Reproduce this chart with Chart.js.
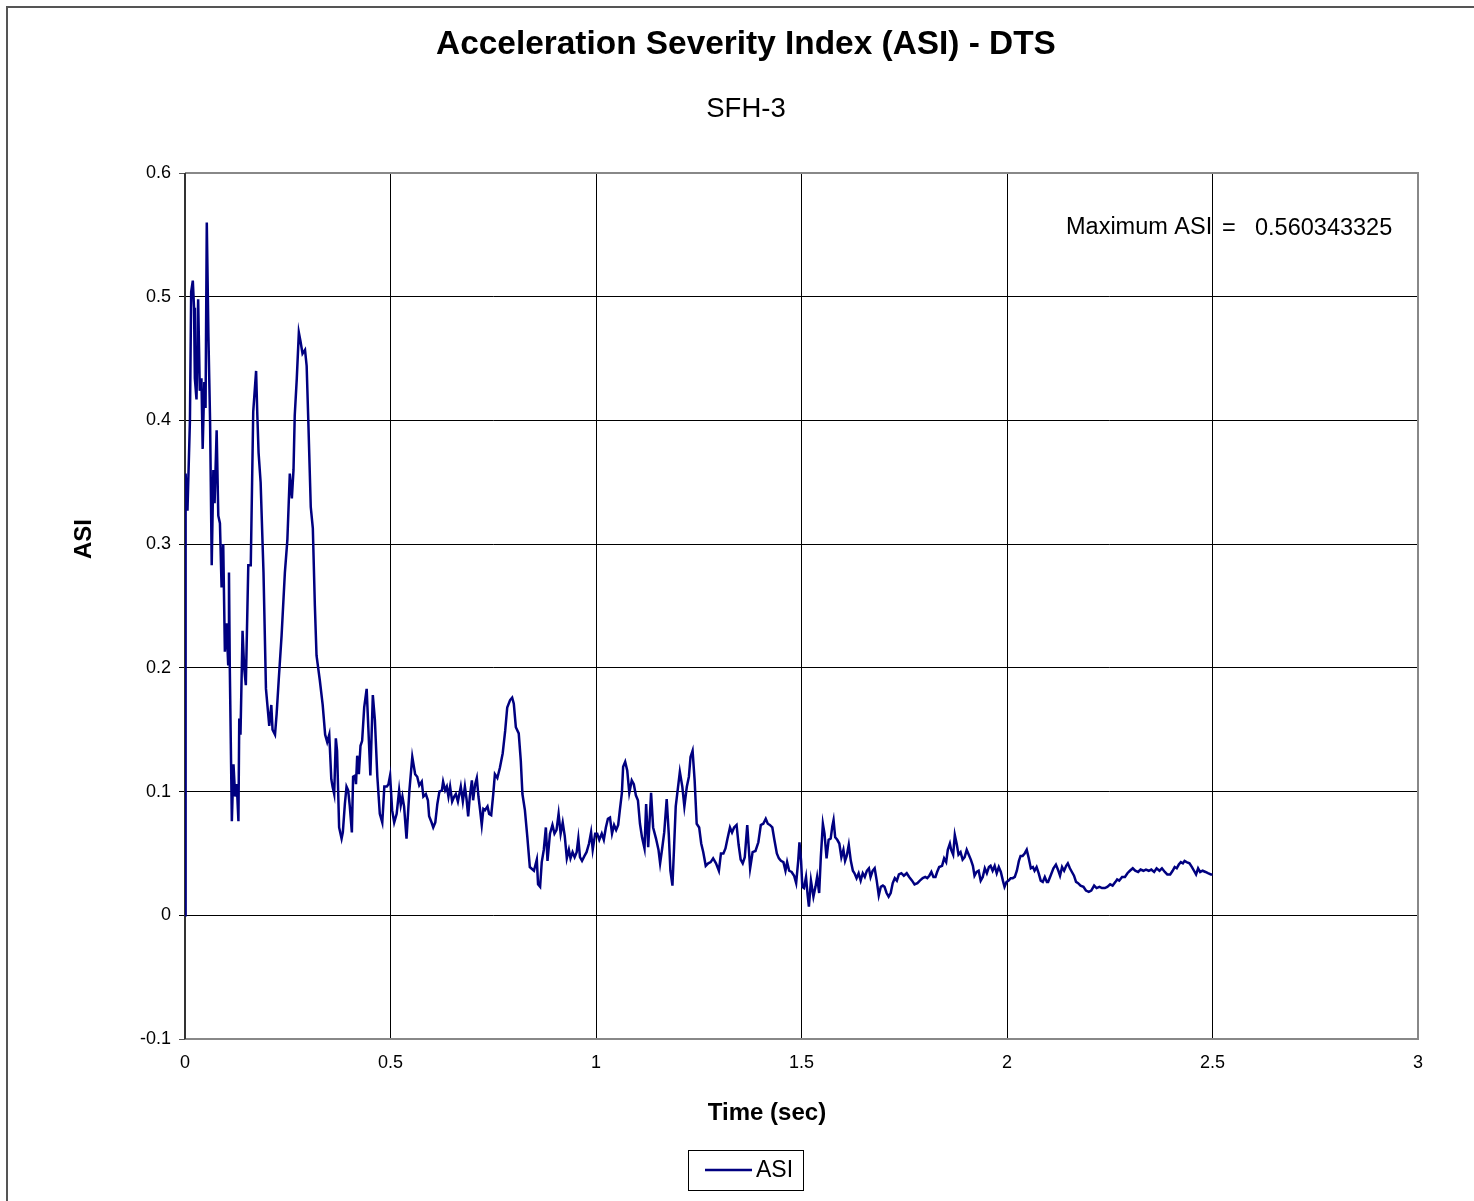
<!DOCTYPE html>
<html>
<head>
<meta charset="utf-8">
<script src="https://cdn.jsdelivr.net/npm/chart.js@4.4.1/dist/chart.umd.min.js"></script>
<style>
  html, body { margin: 0; padding: 0; background: #fff; }
  #wrap { width: 1474px; height: 1201px; }
</style>
</head>
<body>
<div id="wrap"><canvas id="asiChart" width="1474" height="1201"></canvas></div>
<script>
// time (sec) and ASI values
var timeSec = [
  0.000, 0.001, 0.002, 0.006, 0.012, 0.015, 0.019, 0.022, 0.024, 0.028,
  0.032, 0.036, 0.040, 0.043, 0.047, 0.050, 0.053, 0.057, 0.061, 0.065,
  0.069, 0.072, 0.077, 0.081, 0.085, 0.089, 0.093, 0.097, 0.101, 0.105,
  0.107, 0.109, 0.114, 0.118, 0.122, 0.126, 0.130, 0.132, 0.135, 0.140,
  0.144, 0.148, 0.154, 0.160, 0.166, 0.173, 0.176, 0.179, 0.184, 0.191,
  0.197, 0.205, 0.210, 0.213, 0.219, 0.223, 0.228, 0.235, 0.243, 0.249,
  0.255, 0.260, 0.264, 0.267, 0.272, 0.277, 0.281, 0.286, 0.292, 0.296,
  0.300, 0.306, 0.311, 0.316, 0.320, 0.328, 0.335, 0.341, 0.346, 0.351,
  0.356, 0.359, 0.363, 0.367, 0.370, 0.375, 0.381, 0.384, 0.389, 0.393,
  0.397, 0.401, 0.406, 0.409, 0.414, 0.416, 0.419, 0.423, 0.427, 0.431,
  0.436, 0.442, 0.446, 0.451, 0.457, 0.462, 0.468, 0.474, 0.480, 0.485,
  0.491, 0.495, 0.499, 0.504, 0.509, 0.515, 0.521, 0.525, 0.529, 0.533,
  0.539, 0.546, 0.553, 0.560, 0.565, 0.570, 0.576, 0.580, 0.586, 0.591,
  0.594, 0.600, 0.604, 0.609, 0.614, 0.619, 0.625, 0.628, 0.633, 0.637,
  0.641, 0.645, 0.650, 0.655, 0.659, 0.664, 0.671, 0.676, 0.681, 0.685,
  0.689, 0.693, 0.698, 0.701, 0.706, 0.710, 0.714, 0.718, 0.722, 0.726,
  0.730, 0.736, 0.740, 0.745, 0.750, 0.754, 0.760, 0.766, 0.773, 0.779,
  0.784, 0.791, 0.796, 0.800, 0.805, 0.812, 0.817, 0.821, 0.827, 0.833,
  0.839, 0.849, 0.856, 0.859, 0.864, 0.868, 0.873, 0.878, 0.882, 0.888,
  0.894, 0.899, 0.904, 0.909, 0.914, 0.919, 0.924, 0.929, 0.934, 0.938,
  0.943, 0.948, 0.953, 0.957, 0.961, 0.966, 0.972, 0.977, 0.983, 0.988,
  0.992, 0.998, 1.003, 1.008, 1.014, 1.019, 1.024, 1.029, 1.034, 1.039,
  1.044, 1.049, 1.054, 1.058, 1.063, 1.066, 1.071, 1.076, 1.081, 1.087,
  1.092, 1.097, 1.102, 1.107, 1.112, 1.118, 1.122, 1.127, 1.134, 1.139,
  1.146, 1.152, 1.156, 1.161, 1.166, 1.172, 1.177, 1.181, 1.186, 1.190,
  1.194, 1.199, 1.204, 1.210, 1.215, 1.221, 1.226, 1.230, 1.235, 1.240,
  1.245, 1.251, 1.256, 1.261, 1.267, 1.273, 1.279, 1.285, 1.292, 1.299,
  1.304, 1.310, 1.315, 1.320, 1.326, 1.331, 1.336, 1.342, 1.347, 1.352,
  1.357, 1.362, 1.368, 1.375, 1.381, 1.388, 1.395, 1.401, 1.407, 1.413,
  1.418, 1.423, 1.429, 1.434, 1.440, 1.445, 1.450, 1.456, 1.461, 1.465,
  1.470, 1.476, 1.482, 1.487, 1.492, 1.495, 1.499, 1.502, 1.506, 1.511,
  1.515, 1.518, 1.523, 1.529, 1.534, 1.538, 1.543, 1.547, 1.552, 1.556,
  1.561, 1.566, 1.571, 1.575, 1.578, 1.582, 1.587, 1.592, 1.597, 1.602,
  1.606, 1.610, 1.615, 1.620, 1.625, 1.629, 1.634, 1.639, 1.644, 1.649,
  1.654, 1.659, 1.664, 1.668, 1.673, 1.678, 1.683, 1.688, 1.693, 1.698,
  1.702, 1.707, 1.712, 1.717, 1.722, 1.727, 1.732, 1.737, 1.743, 1.749,
  1.756, 1.762, 1.769, 1.775, 1.782, 1.788, 1.795, 1.801, 1.806, 1.811,
  1.816, 1.821, 1.826, 1.830, 1.835, 1.842, 1.847, 1.852, 1.856, 1.861,
  1.864, 1.869, 1.873, 1.878, 1.882, 1.887, 1.892, 1.897, 1.902, 1.907,
  1.912, 1.917, 1.921, 1.926, 1.931, 1.936, 1.941, 1.946, 1.951, 1.956,
  1.960, 1.965, 1.970, 1.975, 1.980, 1.985, 1.990, 1.994, 1.999, 2.004,
  2.009, 2.014, 2.019, 2.024, 2.029, 2.033, 2.038, 2.043, 2.048, 2.053,
  2.058, 2.063, 2.067, 2.072, 2.077, 2.082, 2.087, 2.092, 2.097, 2.100,
  2.106, 2.113, 2.119, 2.125, 2.129, 2.134, 2.139, 2.144, 2.148, 2.153,
  2.158, 2.163, 2.168, 2.173, 2.179, 2.186, 2.192, 2.199, 2.205, 2.212,
  2.218, 2.225, 2.231, 2.238, 2.244, 2.251, 2.257, 2.264, 2.268, 2.273,
  2.280, 2.287, 2.293, 2.299, 2.306, 2.312, 2.319, 2.325, 2.332, 2.338,
  2.345, 2.351, 2.358, 2.364, 2.371, 2.377, 2.384, 2.390, 2.397, 2.403,
  2.408, 2.413, 2.418, 2.423, 2.428, 2.432, 2.437, 2.444, 2.450, 2.455,
  2.460, 2.465, 2.470, 2.476, 2.483, 2.489, 2.496, 2.500
];
var asiValues = [
  0.000, 0.327, 0.357, 0.327, 0.400, 0.504, 0.513, 0.491, 0.434, 0.417,
  0.498, 0.424, 0.434, 0.377, 0.431, 0.410, 0.560, 0.468, 0.400, 0.283,
  0.360, 0.333, 0.392, 0.323, 0.317, 0.265, 0.300, 0.213, 0.236, 0.203,
  0.277, 0.200, 0.076, 0.122, 0.096, 0.106, 0.076, 0.159, 0.146, 0.230,
  0.200, 0.186, 0.283, 0.283, 0.407, 0.440, 0.404, 0.374, 0.350, 0.277,
  0.183, 0.153, 0.170, 0.150, 0.146, 0.163, 0.190, 0.226, 0.277, 0.303,
  0.357, 0.337, 0.360, 0.404, 0.434, 0.471, 0.464, 0.454, 0.457, 0.444,
  0.400, 0.330, 0.313, 0.250, 0.210, 0.190, 0.170, 0.146, 0.140, 0.146,
  0.110, 0.104, 0.098, 0.143, 0.133, 0.071, 0.062, 0.067, 0.090, 0.104,
  0.101, 0.088, 0.067, 0.112, 0.113, 0.106, 0.129, 0.114, 0.137, 0.141,
  0.168, 0.183, 0.152, 0.113, 0.178, 0.158, 0.112, 0.082, 0.075, 0.104,
  0.104, 0.106, 0.113, 0.085, 0.075, 0.082, 0.101, 0.089, 0.096, 0.088,
  0.062, 0.101, 0.128, 0.114, 0.112, 0.105, 0.108, 0.096, 0.098, 0.093,
  0.080, 0.075, 0.071, 0.075, 0.090, 0.100, 0.101, 0.108, 0.101, 0.104,
  0.096, 0.104, 0.092, 0.096, 0.098, 0.092, 0.104, 0.092, 0.104, 0.094,
  0.080, 0.096, 0.109, 0.093, 0.106, 0.111, 0.096, 0.085, 0.073, 0.086,
  0.085, 0.088, 0.082, 0.081, 0.098, 0.114, 0.111, 0.119, 0.131, 0.149,
  0.168, 0.174, 0.176, 0.171, 0.152, 0.147, 0.125, 0.098, 0.085, 0.063,
  0.039, 0.036, 0.045, 0.025, 0.023, 0.043, 0.053, 0.071, 0.044, 0.066,
  0.073, 0.066, 0.069, 0.082, 0.066, 0.075, 0.064, 0.046, 0.053, 0.046,
  0.051, 0.047, 0.051, 0.062, 0.047, 0.044, 0.048, 0.051, 0.058, 0.067,
  0.053, 0.066, 0.066, 0.061, 0.066, 0.061, 0.071, 0.078, 0.079, 0.066,
  0.073, 0.069, 0.073, 0.085, 0.099, 0.120, 0.124, 0.117, 0.099, 0.109,
  0.106, 0.097, 0.093, 0.074, 0.063, 0.054, 0.090, 0.055, 0.099, 0.071,
  0.062, 0.053, 0.042, 0.054, 0.067, 0.094, 0.066, 0.036, 0.024, 0.055,
  0.088, 0.102, 0.116, 0.104, 0.088, 0.104, 0.112, 0.128, 0.133, 0.109,
  0.074, 0.071, 0.058, 0.051, 0.040, 0.042, 0.043, 0.046, 0.042, 0.036,
  0.050, 0.050, 0.054, 0.062, 0.071, 0.067, 0.071, 0.073, 0.057, 0.045,
  0.042, 0.047, 0.073, 0.038, 0.051, 0.052, 0.059, 0.073, 0.074, 0.078,
  0.074, 0.073, 0.071, 0.061, 0.050, 0.046, 0.044, 0.043, 0.036, 0.043,
  0.036, 0.035, 0.032, 0.026, 0.044, 0.059, 0.044, 0.023, 0.022, 0.031,
  0.016, 0.007, 0.028, 0.015, 0.023, 0.031, 0.018, 0.047, 0.074, 0.066,
  0.046, 0.061, 0.062, 0.072, 0.077, 0.063, 0.061, 0.058, 0.047, 0.053,
  0.044, 0.048, 0.057, 0.044, 0.036, 0.034, 0.030, 0.034, 0.028, 0.034,
  0.031, 0.036, 0.038, 0.031, 0.036, 0.038, 0.028, 0.016, 0.023, 0.024,
  0.023, 0.018, 0.015, 0.018, 0.026, 0.030, 0.028, 0.033, 0.034, 0.032,
  0.034, 0.031, 0.028, 0.025, 0.026, 0.028, 0.030, 0.031, 0.030, 0.032,
  0.035, 0.031, 0.031, 0.035, 0.039, 0.040, 0.046, 0.043, 0.053, 0.058,
  0.053, 0.049, 0.065, 0.057, 0.049, 0.051, 0.045, 0.047, 0.053, 0.049,
  0.045, 0.040, 0.032, 0.035, 0.036, 0.028, 0.031, 0.038, 0.034, 0.039,
  0.040, 0.036, 0.040, 0.034, 0.039, 0.035, 0.028, 0.023, 0.027, 0.028,
  0.030, 0.030, 0.031, 0.036, 0.044, 0.048, 0.048, 0.050, 0.053, 0.046,
  0.038, 0.039, 0.036, 0.039, 0.034, 0.028, 0.027, 0.031, 0.027, 0.027,
  0.032, 0.038, 0.041, 0.036, 0.032, 0.039, 0.036, 0.040, 0.042, 0.038,
  0.035, 0.032, 0.027, 0.026, 0.024, 0.023, 0.020, 0.019, 0.020, 0.024,
  0.022, 0.023, 0.022, 0.022, 0.023, 0.025, 0.024, 0.027, 0.029, 0.028,
  0.031, 0.031, 0.034, 0.036, 0.038, 0.036, 0.035, 0.037, 0.036, 0.037,
  0.036, 0.037, 0.035, 0.038, 0.036, 0.038, 0.035, 0.033, 0.033, 0.036,
  0.039, 0.038, 0.041, 0.043, 0.042, 0.044, 0.043, 0.042, 0.039, 0.036,
  0.033, 0.038, 0.035, 0.036, 0.035, 0.034, 0.033, 0.033
];
var xTicks = [0, 0.5, 1, 1.5, 2, 2.5, 3];
var yTicks = [-0.1, 0, 0.1, 0.2, 0.3, 0.4, 0.5, 0.6];
var maxAsiText = '0.560343325';

var FONT = '"Liberation Sans", Arial, sans-serif';
var points = timeSec.map(function (t, i) { return { x: t, y: asiValues[i] }; });

var decorations = {
  id: 'decorations',
  beforeDatasetsDraw: function (chart) {
    var c = chart.ctx, a = chart.chartArea;
    c.save();
    // plot area border (grey) and value axis (dark)
    c.strokeStyle = '#888';
    c.lineWidth = 2;
    c.beginPath();
    c.moveTo(a.left, a.top);
    c.lineTo(a.right, a.top);
    c.lineTo(a.right, a.bottom);
    c.lineTo(a.left, a.bottom);
    c.stroke();
    c.strokeStyle = '#333';
    c.beginPath();
    c.moveTo(a.left, a.top);
    c.lineTo(a.left, a.bottom);
    c.stroke();
    c.restore();
  },
  afterDraw: function (chart) {
    var c = chart.ctx;
    c.save();
    // outer frame
    c.strokeStyle = '#555';
    c.lineWidth = 2;
    c.beginPath();
    c.moveTo(7, 1201);
    c.lineTo(7, 7);
    c.lineTo(1474, 7);
    c.stroke();

    c.fillStyle = '#000';
    c.textAlign = 'center';
    c.textBaseline = 'middle';
    c.font = 'bold 33.4px ' + FONT;
    c.fillText('Acceleration Severity Index (ASI) - DTS', 746, 45);
    c.font = '27.5px ' + FONT;
    c.fillText('SFH-3', 746, 109);

    c.font = 'bold 24px ' + FONT;
    c.fillText('Time (sec)', 767, 1113);
    c.save();
    c.translate(84, 539);
    c.rotate(-Math.PI / 2);
    c.fillText('ASI', 0, 0);
    c.restore();

    // max annotation
    c.textAlign = 'left';
    c.font = '23.5px ' + FONT;
    c.fillText('Maximum ASI', 1066, 228);
    c.fillText('=', 1222, 229);
    c.fillText(maxAsiText, 1255, 229);

    // legend
    c.strokeStyle = '#000';
    c.lineWidth = 1;
    c.strokeRect(688.5, 1150.5, 115, 40);
    c.strokeStyle = '#000080';
    c.lineWidth = 2.5;
    c.beginPath();
    c.moveTo(705, 1170);
    c.lineTo(752, 1170);
    c.stroke();
    c.font = '23px ' + FONT;
    c.fillText(chart.data.datasets[0].label, 756, 1171);
    c.restore();
  }
};

new Chart(document.getElementById('asiChart'), {
  type: 'scatter',
  data: {
    datasets: [{
      label: 'ASI',
      data: points,
      showLine: true,
      borderColor: '#000080',
      borderWidth: 2.5,
      pointRadius: 0,
      tension: 0
    }]
  },
  options: {
    responsive: false,
    animation: false,
    layout: { padding: { left: 0, right: 56, top: 173, bottom: 122 } },
    plugins: { legend: { display: false }, tooltip: { enabled: false } },
    scales: {
      x: {
        type: 'linear',
        min: 0,
        max: 3,
        afterFit: function (s) { s.height = 40; },
        afterBuildTicks: function (s) { s.ticks = xTicks.map(function (v) { return { value: v }; }); },
        ticks: {
          color: '#000',
          padding: 13,
          maxRotation: 0,
          font: { family: FONT, size: 18 },
          callback: function (v) { return String(v); }
        },
        grid: {
          drawTicks: false,
          lineWidth: 1,
          color: function (ctx) {
            var v = ctx.tick ? ctx.tick.value : null;
            return (v === 0 || v === 3) ? 'rgba(0,0,0,0)' : '#000';
          }
        },
        border: { display: false }
      },
      y: {
        min: -0.1,
        max: 0.6,
        afterFit: function (s) { s.width = 185; },
        afterBuildTicks: function (s) { s.ticks = yTicks.map(function (v) { return { value: v }; }); },
        ticks: {
          color: '#000',
          padding: 8,
          font: { family: FONT, size: 18 },
          callback: function (v) { return String(Math.round(v * 10) / 10); }
        },
        grid: {
          drawTicks: true,
          tickLength: 6,
          lineWidth: 1,
          color: function (ctx) {
            var v = ctx.tick ? ctx.tick.value : null;
            return (v === 0.6 || v === -0.1) ? '#555' : '#000';
          }
        },
        border: { display: false }
      }
    }
  },
  plugins: [decorations]
});
</script>
</body>
</html>
